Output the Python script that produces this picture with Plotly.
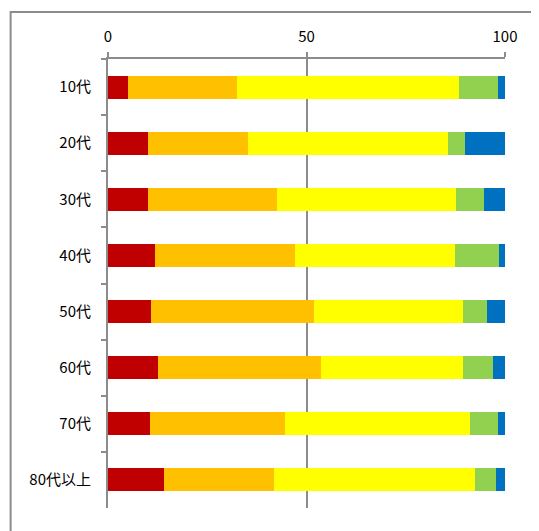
import plotly.graph_objects as go

categories = ["10代", "20代", "30代", "40代", "50代", "60代", "70代", "80代以上"]
s1 = [5.0, 10.1, 10.0, 11.8, 10.8, 12.7, 10.7, 14.0]
s2 = [27.6, 25.2, 32.6, 35.4, 41.2, 41.0, 34.0, 27.9]
s3 = [55.8, 50.4, 45.0, 40.1, 37.5, 35.6, 46.4, 50.6]
s4 = [9.8, 4.1, 7.1, 11.3, 6.0, 7.7, 7.1, 5.2]
s5 = [1.8, 10.2, 5.3, 1.4, 4.5, 3.0, 1.8, 2.3]
series = [s1, s2, s3, s4, s5]
colors = ["#C00000", "#FFC000", "#FFFF00", "#92D050", "#0070C0"]
x_ticks = [0, 50, 100]

fig = go.Figure()
for vals, col in zip(series, colors):
    fig.add_trace(go.Bar(x=vals, y=categories, orientation="h",
                         marker=dict(color=col, line=dict(width=0)),
                         showlegend=False, hoverinfo="skip"))

W, H = 539, 531
OFF = 8  # page body margin
L, R, T, B = 107.5 - OFF, 34 + OFF, 59 - OFF, 23 + OFF
pw, ph = W - L - R, H - T - B

fig.update_layout(
    width=W, height=H, barmode="stack", bargap=0.59,
    margin=dict(l=L, r=R, t=T, b=B, pad=0),
    paper_bgcolor="white", plot_bgcolor="white",
    font=dict(family="Noto Sans CJK JP", size=15, color="#000000"),
    xaxis=dict(side="top", range=[0, 100], tickvals=x_ticks,
               ticks="outside", ticklen=5, tickcolor="#8c8c8c", tickwidth=2,
               showline=True, linecolor="#8c8c8c", linewidth=2,
               showgrid=True, gridcolor="#8c8c8c", gridwidth=2,
               zeroline=False, ticklabelstandoff=4,
               tickfont=dict(family="Noto Sans CJK JP", size=15)),
    yaxis=dict(type="category", categoryorder="array", categoryarray=categories,
               range=[7.5, -0.5], tickson="boundaries",
               ticks="outside", ticklen=5, tickcolor="#8c8c8c", tickwidth=2,
               showline=True, linecolor="#8c8c8c", linewidth=2,
               showgrid=False, zeroline=False, ticklabelstandoff=12,
               tickfont=dict(family="Noto Sans CJK JP", size=15)),
    shapes=[dict(type="rect", xref="paper", yref="paper",
                 x0=(10 - OFF - L) / pw, x1=2.0, y0=-1.0,
                 y1=1 + (T - (12 - OFF)) / ph,
                 line=dict(color="#8c8c8c", width=2), layer="below")],
)

fig.write_html("out.html")
